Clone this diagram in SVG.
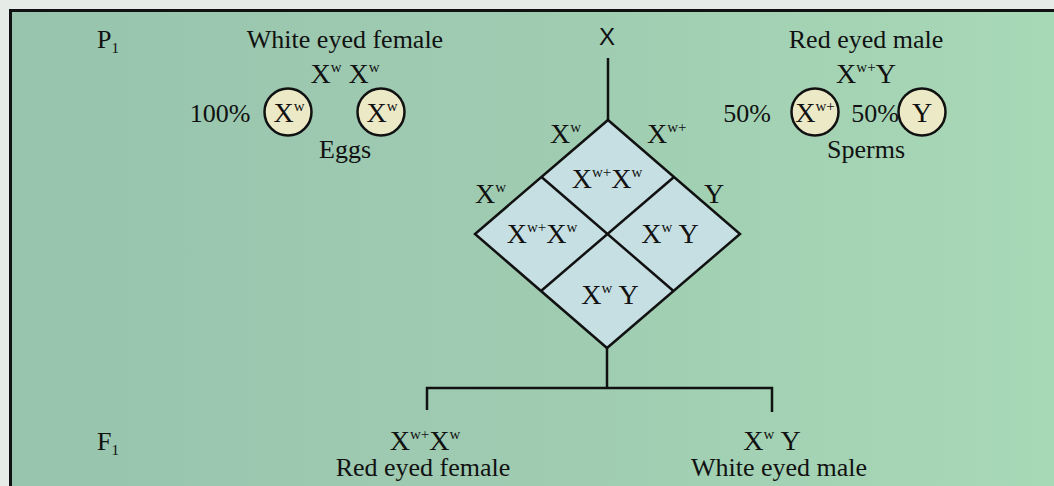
<svg xmlns="http://www.w3.org/2000/svg" width="1054" height="486" viewBox="0 0 1054 486">
<defs>
<linearGradient id="bg" x1="0" y1="0" x2="1" y2="0">
<stop offset="0" stop-color="#97c4ad"/>
<stop offset="0.5" stop-color="#9fccb1"/>
<stop offset="1" stop-color="#a8d9b7"/>
</linearGradient>
<style>
.t{font-family:"Liberation Serif","Times New Roman",serif;font-size:26px;fill:#111;}
.g{font-family:"Liberation Serif","Times New Roman",serif;font-size:28px;fill:#111;}
.s{font-size:15px;}
.ln{stroke:#111;stroke-width:2.5;fill:none;}
.cell{fill:#c6dfe3;stroke:#111;stroke-width:2.5;}
.gam{fill:#ece9c6;stroke:#111;stroke-width:2.5;}
</style>
</defs>
<rect x="0" y="0" width="1054" height="486" fill="#e6ebe7"/>
<rect x="10.5" y="10.5" width="1060" height="490" fill="url(#bg)" stroke="#111" stroke-width="3"/>

<g id="labels">
<text class="t" x="97" y="48">P<tspan class="s" dy="5">1</tspan></text>
<text class="t" x="97" y="450">F<tspan class="s" dy="5">1</tspan></text>
<text x="607" y="45" text-anchor="middle" style="font-family:'Liberation Sans',Arial,sans-serif;font-size:24px;fill:#111">X</text>
</g>

<g id="female">
<text class="t" x="345" y="48" text-anchor="middle">White eyed female</text>
<text class="g" x="345" y="83" text-anchor="middle">X<tspan class="s" dy="-11">w</tspan><tspan dy="11"> X</tspan><tspan class="s" dy="-11">w</tspan></text>
<text class="t" x="220" y="122" text-anchor="middle">100%</text>
<circle class="gam" cx="288" cy="112" r="23.5"/>
<text class="g" x="289" y="122" text-anchor="middle">X<tspan class="s" dy="-11">w</tspan></text>
<circle class="gam" cx="381" cy="112" r="23.5"/>
<text class="g" x="382" y="122" text-anchor="middle">X<tspan class="s" dy="-11">w</tspan></text>
<text class="t" x="345" y="158" text-anchor="middle">Eggs</text>
</g>

<g id="male">
<text class="t" x="866" y="48" text-anchor="middle">Red eyed male</text>
<text class="g" x="866" y="83" text-anchor="middle">X<tspan class="s" dy="-11">w+</tspan><tspan dy="11">Y</tspan></text>
<text class="t" x="747" y="122" text-anchor="middle">50%</text>
<circle class="gam" cx="815" cy="112" r="23.5"/>
<text class="g" x="815" y="122" text-anchor="middle">X<tspan class="s" dy="-11">w+</tspan></text>
<text class="t" x="875" y="122" text-anchor="middle">50%</text>
<circle class="gam" cx="922" cy="112" r="23.5"/>
<text class="g" x="922" y="122" text-anchor="middle">Y</text>
<text class="t" x="866" y="158" text-anchor="middle">Sperms</text>
</g>

<g id="connectors">
<line class="ln" x1="608" y1="58" x2="608" y2="120"/>
<line class="ln" x1="607" y1="348" x2="607" y2="388"/>
<polyline class="ln" points="427,410 427,388 772,388 772,412"/>
</g>

<g id="punnett">
<polygon class="cell" points="608,120 740,234 607,348 475,234"/>
<line class="ln" x1="541.5" y1="177" x2="673.5" y2="291"/>
<line class="ln" x1="674" y1="177" x2="541" y2="291"/>
<text class="g" x="550" y="143">X<tspan class="s" dy="-11">w</tspan></text>
<text class="g" x="647" y="143">X<tspan class="s" dy="-11">w+</tspan></text>
<text class="g" x="475" y="203">X<tspan class="s" dy="-11">w</tspan></text>
<text class="g" x="704" y="203">Y</text>
<g id="cell-top"><text class="g" x="607" y="188" text-anchor="middle">X<tspan class="s" dy="-11">w+</tspan><tspan dy="11">X</tspan><tspan class="s" dy="-11">w</tspan></text></g>
<g id="cell-left"><text class="g" x="542" y="243" text-anchor="middle">X<tspan class="s" dy="-11">w+</tspan><tspan dy="11">X</tspan><tspan class="s" dy="-11">w</tspan></text></g>
<g id="cell-right"><text class="g" x="670" y="243" text-anchor="middle">X<tspan class="s" dy="-11">w</tspan><tspan dy="11"> Y</tspan></text></g>
<g id="cell-bottom"><text class="g" x="610" y="304" text-anchor="middle">X<tspan class="s" dy="-11">w</tspan><tspan dy="11"> Y</tspan></text></g>
</g>

<g id="f1-female">
<text class="g" x="425" y="450" text-anchor="middle">X<tspan class="s" dy="-11">w+</tspan><tspan dy="11">X</tspan><tspan class="s" dy="-11">w</tspan></text>
<text class="t" x="423" y="476" text-anchor="middle">Red eyed female</text>
</g>
<g id="f1-male">
<text class="g" x="772" y="450" text-anchor="middle">X<tspan class="s" dy="-11">w</tspan><tspan dy="11"> Y</tspan></text>
<text class="t" x="779" y="476" text-anchor="middle">White eyed male</text>
</g>
</svg>
